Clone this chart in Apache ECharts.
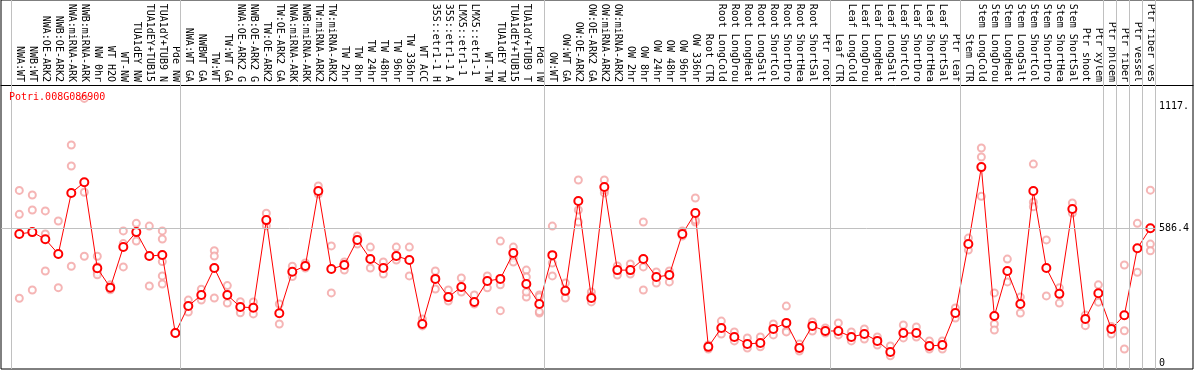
<!DOCTYPE html>
<html>
<head>
<meta charset="utf-8">
<script src="https://cdn.jsdelivr.net/npm/echarts@6/dist/echarts.min.js"></script>
<style>
html,body{margin:0;padding:0;background:#fff;}
#chart{width:1194px;height:370px;}
</style>
</head>
<body>
<div id="chart"></div>
<script>
const geneId = 'Potri.008G086900';

const categories = [
  'NWA:WT','NWB:WT','NWA:OE-ARK2','NWB:OE-ARK2','NWA:miRNA-ARK2','NWB:miRNA-ARK2','NW 0hr','WT H2O','WT-NW',
  'TUA1dEY NW','TUA1dEY+TUB15 NW','TUA1dY+TUB9 NW','Pde NW',
  'NWA:WT GA','NWBWT GA','TW:WT','TW:WT GA','NWA:OE-ARK2 GA','NWB:OE-ARK2 GA','TW:OE-ARK2','TW:OE-ARK2 GA',
  'NWA:miRNA-ARK2','NWB:miRNA-ARK2','TW:miRNA-ARK2','TW:miRNA-ARK2','TW 2hr','TW 8hr','TW 24hr','TW 48hr','TW 96hr','TW 336hr',
  'WT ACC','35S::etr1-1 H2O','35S::etr1-1 ACC','LMX5::etr1-1 H2O','LMX5::etr1-1 ACC','WT-TW',
  'TUA1dEY TW','TUA1dEY+TUB15 TW','TUA1dY+TUB9 TW','Pde TW',
  'OW:WT','OW:WT GA','OW:OE-ARK2','OW:OE-ARK2 GA','OW:miRNA-ARK2','OW:miRNA-ARK2','OW 2hr','OW 8hr','OW 24hr','OW 48hr','OW 96hr','OW 336hr',
  'Root CTR','Root LongCold','Root LongDrought','Root LongHeat','Root LongSalt','Root ShortCold','Root ShortDrought','Root ShortHeat','Root ShortSalt','Ptr root',
  'Leaf CTR','Leaf LongCold','Leaf LongDrought','Leaf LongHeat','Leaf LongSalt','Leaf ShortCold','Leaf ShortDrought','Leaf ShortHeat','Leaf ShortSalt','Ptr leaf',
  'Stem CTR','Stem LongCold','Stem LongDrought','Stem LongHeat','Stem LongSalt','Stem ShortCold','Stem ShortDrought','Stem ShortHeat','Stem ShortSalt',
  'Ptr shoot','Ptr xylem','Ptr phloem','Ptr fiber','Ptr vessel','Ptr fiber vessel'
];

const means = [
  562, 570, 539, 475, 740, 786, 413, 329, 505, 570, 466, 471, 132,
  249, 297, 414, 297, 245, 242, 622, 218, 398, 423, 748, 410, 427, 536, 453, 414, 466, 449,
  171, 367, 288, 332, 267, 358, 367, 479, 345, 258,
  470, 315, 705, 284, 766, 405, 405, 453, 375, 384, 562, 653,
  72, 154, 115, 85, 89, 150, 176, 67, 163, 141,
  141, 115, 128, 98, 50, 132, 132, 76, 80, 219,
  518, 852, 206, 401, 258, 748, 414, 302, 670,
  193, 305, 150, 209, 500, 586.4
];

const replicates = [
  [751, 647, 283], [731, 666, 319], [662, 562, 401], [618, 475, 329], [948, 857, 422], [1150, 743, 465],
  [465, 420, 395, 385], [341, 325, 320], [575, 520, 419], [608, 531, 570], [596, 466, 336], [575, 540, 442, 380, 345], [135, 130, 132],
  [275, 223], [322, 275], [489, 466, 284], [338, 262], [268, 220], [267, 215], [652, 598], [258, 171], [422, 377],
  [436, 414], [770, 735], [510, 306], [440, 405], [553, 518], [505, 414], [440, 388], [505, 449], [505, 380],
  [193, 163], [401, 323], [319, 271], [371, 310], [297, 258], [380, 328],
  [531, 341, 229], [505, 458, 440], [405, 375, 288, 310], [297, 290, 219, 225],
  [596, 436, 380], [349, 284], [796, 666, 614], [310, 267, 293], [796, 740, 752], [423, 384], [432, 388], [614, 419, 319],
  [397, 349], [401, 354], [575, 553], [718, 614, 622],
  [80, 63], [184, 128], [137, 98], [111, 67], [115, 72], [171, 124], [249, 141, 137], [85, 54], [180, 141], [154, 132],
  [176, 124], [137, 98], [150, 106], [115, 80], [76, 33], [167, 111], [158, 115], [98, 63], [98, 63], [241, 197],
  [544, 492], [935, 896, 725], [306, 171, 145], [453, 354], [288, 219], [865, 700, 680], [536, 293], [328, 262], [696, 653],
  [210, 164], [341, 266], [160, 128], [427, 142, 63], [608, 396], [752, 518, 489]
];

// index of the last category of each group (separator drawn just after it)
const groupEnds = [-1, 12, 40, 62, 72, 83, 84, 85, 86, 87];
const refValue = 586.4;
const tickValues = [0, 586.4, 1117];
const tickLabels = ['0', '586.4', '1117.'];

const XMIN = -1.408, XMAX = 90.28, SEP = 0.36;
const MONO = 'DejaVu Sans Mono';

const repData = [];
replicates.forEach((arr, i) => arr.forEach(v => repData.push([i, v])));
const meanData = means.map((v, i) => [i, v]);

const chart = echarts.init(document.getElementById('chart'), null, {renderer: 'canvas'});
chart.setOption({
  animation: false,
  backgroundColor: '#fff',
  title: {
    text: geneId, left: 9, top: 92, padding: 0,
    textStyle: {fontFamily: MONO, fontSize: 10, fontWeight: 'normal', color: '#ff0000'}
  },
  grid: {left: 1, top: 0, width: 1192, height: 369, show: true, borderColor: '#000', borderWidth: 1, backgroundColor: 'transparent'},
  xAxis: {
    type: 'value', min: XMIN, max: XMAX, position: 'top', offset: -85,
    axisLine: {show: true, onZero: false, lineStyle: {color: '#000', width: 1}},
    axisTick: {show: false},
    splitLine: {show: false},
    axisLabel: {
      customValues: categories.map((c, i) => i),
      formatter: v => categories[Math.round(v)] || '',
      rotate: 90, margin: 3, fontFamily: MONO, fontSize: 10, color: '#000',
      overflow: 'truncate', width: 82, ellipsis: ''
    }
  },
  yAxis: {
    type: 'value', min: -24, max: 1577, position: 'right', offset: -38,
    axisLine: {show: false}, axisTick: {show: false}, splitLine: {show: false},
    axisLabel: {
      customValues: tickValues,
      formatter: v => tickLabels[tickValues.indexOf(v)] ?? String(v),
      margin: 4, fontFamily: MONO, fontSize: 10, color: '#000'
    }
  },
  series: [
    {
      type: 'scatter', z: 2, silent: true,
      data: repData,
      symbol: 'emptyCircle', symbolSize: 7,
      itemStyle: {color: '#f2a2a2', borderColor: '#f2a2a2', borderWidth: 1},
      markLine: {
        silent: true, symbol: 'none', animation: false,
        label: {show: false},
        lineStyle: {color: '#c0c0c0', width: 1, type: 'solid'},
        data: groupEnds.map(k => ({xAxis: k + SEP})).concat([
          [{coord: [XMIN + 0.01, refValue]}, {coord: [87 + SEP, refValue]}]
        ])
      }
    },
    {
      type: 'line', z: 3, silent: true,
      data: meanData,
      symbol: 'emptyCircle', symbolSize: 8, showAllSymbol: true,
      lineStyle: {color: '#ff0000', width: 1},
      itemStyle: {color: '#ff0000', borderColor: '#e00000', borderWidth: 1.2}
    }
  ]
});
</script>
</body>
</html>
